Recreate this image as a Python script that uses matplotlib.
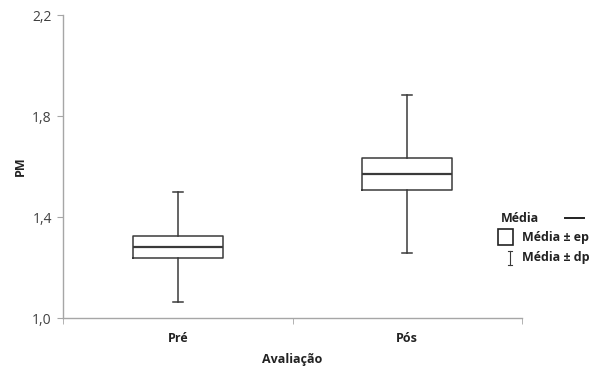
import matplotlib.pyplot as plt
from matplotlib.patches import Rectangle
from matplotlib.lines import Line2D

plt.rcParams['font.family'] = ['Open Sans', 'DejaVu Sans']

# data
categories = ['Pré', 'Pós']
media = [1.281, 1.570]
media_menos_ep = [1.238, 1.507]
media_mais_ep = [1.325, 1.634]
media_menos_dp = [1.063, 1.257]
media_mais_dp = [1.499, 1.883]

ytick_vals = [1.0, 1.4, 1.8, 2.2]
ytick_labels = ['1,0', '1,4', '1,8', '2,2']

line_col = '#3a3a3a'
axis_col = '#a6a6a6'
text_col = '#404040'

fig = plt.figure(figsize=(6, 3.69), dpi=100)
ax = fig.add_axes([0.105, 0.138, 0.765, 0.821])

stats = []
for i, cat in enumerate(categories):
    stats.append({'label': cat, 'med': media[i], 'q1': media_menos_ep[i], 'q3': media_mais_ep[i],
                  'whislo': media_menos_dp[i], 'whishi': media_mais_dp[i], 'fliers': []})

ax.bxp(stats, positions=[0, 1], widths=0.39, capwidths=0.045, showfliers=False,
       boxprops=dict(color=line_col, linewidth=1.1),
       medianprops=dict(color=line_col, linewidth=1.6),
       whiskerprops=dict(color=line_col, linewidth=1.1),
       capprops=dict(color=line_col, linewidth=1.1))

ax.set_xlim(-0.5, 1.5)
ax.set_ylim(1.0, 2.2)
ax.set_yticks(ytick_vals)
ax.set_yticklabels(ytick_labels, fontsize=10, color=text_col)
ax.set_xticks([0, 1])
ax.set_xticklabels(categories, fontsize=9, fontweight='bold', color='#222222')
ax.tick_params(axis='x', length=0, pad=10)
ax.set_xticks([-0.5, 0.5, 1.5], minor=True)
ax.tick_params(axis='x', which='minor', length=4, color=axis_col, direction='out')
ax.tick_params(axis='y', length=4, color=axis_col, pad=4)

for s in ['top', 'right']:
    ax.spines[s].set_visible(False)
for s in ['left', 'bottom']:
    ax.spines[s].set_color(axis_col)
    ax.spines[s].set_linewidth(1.0)

ax.set_xlabel('Avaliação', fontsize=9, fontweight='bold', color='#222222', labelpad=6)
ax.set_ylabel('PM', fontsize=9, fontweight='bold', color='#222222')
ax.yaxis.set_label_coords(-0.078, 0.5)

# manual legend on the right
W, H = 600, 369
def fx(px):
    return px / W
def fy(py):
    return 1 - py / H

fig.text(fx(501), fy(218), 'Média', fontsize=9, fontweight='bold', color='#222222', va='center')
fig.add_artist(Line2D([fx(565), fx(584)], [fy(218), fy(218)], color='#222222', linewidth=1.4))
fig.add_artist(Rectangle((fx(498), fy(245)), fx(15), 16 / H, fill=False, edgecolor='#222222', linewidth=1.2))
fig.text(fx(522), fy(237), 'Média ± ep', fontsize=9, fontweight='bold', color='#222222', va='center')
fig.add_artist(Line2D([fx(510), fx(510)], [fy(251), fy(265)], color=line_col, linewidth=0.8))
fig.add_artist(Line2D([fx(508), fx(512)], [fy(251), fy(251)], color=line_col, linewidth=0.8))
fig.add_artist(Line2D([fx(508), fx(512)], [fy(265), fy(265)], color=line_col, linewidth=0.8))
fig.text(fx(522), fy(257), 'Média ± dp', fontsize=9, fontweight='bold', color='#222222', va='center')

fig.savefig('out.png', dpi=100)
